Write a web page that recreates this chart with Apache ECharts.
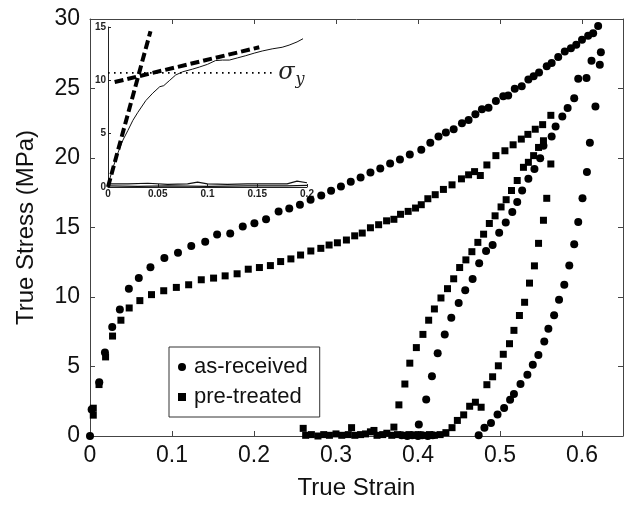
<!DOCTYPE html>
<html>
<head>
<meta charset="utf-8">
<script src="https://cdn.jsdelivr.net/npm/echarts@6/dist/echarts.min.js"></script>
<style>
  html, body { margin: 0; padding: 0; background: #fff; }
  #main { width: 627px; height: 505px; }
</style>
</head>
<body>
<div id="main"></div>
<script>
// main plot: [true strain, true stress (MPa)]
var asReceived = [
  [0, 0], [0.002, 1.9], [0.0113, 3.86], [0.0182, 6.0], [0.0271, 7.84], [0.0364, 9.1],
  [0.0474, 10.6], [0.0595, 11.36], [0.0737, 12.14], [0.0907, 12.8], [0.1073, 13.19],
  [0.1235, 13.67], [0.1405, 13.98], [0.155, 14.5], [0.171, 14.57], [0.1863, 15.07],
  [0.2005, 15.3], [0.2147, 15.6], [0.23, 16.16], [0.243, 16.36], [0.256, 16.64],
  [0.269, 17.0], [0.282, 17.3], [0.294, 17.65], [0.306, 17.95], [0.318, 18.3],
  [0.33, 18.6], [0.342, 18.95], [0.354, 19.25], [0.366, 19.6], [0.378, 19.9],
  [0.39, 20.25], [0.404, 20.6], [0.415, 21.1], [0.425, 21.55], [0.434, 21.83],
  [0.4435, 22.07], [0.4536, 22.5], [0.4617, 22.74], [0.47, 23.14], [0.478, 23.5],
  [0.486, 23.62], [0.495, 24.1], [0.504, 24.45], [0.51, 24.5], [0.518, 24.98],
  [0.5265, 25.17], [0.5346, 25.64], [0.541, 25.88], [0.5476, 26.16], [0.557, 26.6],
  [0.563, 26.83], [0.571, 27.26], [0.579, 27.66], [0.5865, 27.9], [0.593, 28.14],
  [0.6, 28.5], [0.6075, 28.8], [0.6136, 28.98], [0.6197, 29.5],
  // unloading branch
  [0.623, 27.6], [0.6116, 27.0], [0.6217, 26.7], [0.6055, 25.76], [0.5954, 25.7],
  [0.5905, 24.3], [0.5825, 23.6], [0.576, 22.98], [0.5678, 22.26], [0.563, 21.55],
  [0.553, 20.88], [0.549, 19.98], [0.542, 19.2], [0.5346, 18.5], [0.527, 17.66],
  [0.521, 16.83], [0.515, 16.12], [0.507, 15.36], [0.499, 14.62], [0.491, 13.74],
  [0.483, 13.31], [0.4746, 12.43], [0.4666, 11.29], [0.4576, 10.48], [0.4496, 9.57],
  [0.4406, 8.5], [0.4326, 7.31], [0.424, 5.95], [0.417, 4.29], [0.41, 2.62],
  [0.401, 0.83], [0.38, 0.05], [0.387, 0.0], [0.393, 0.05], [0.4, 0.0], [0.405, 0.05],
  [0.412, 0.0], [0.418, 0.05],
  // reloading branch
  [0.474, 0.05], [0.481, 0.6], [0.489, 0.93], [0.497, 1.55], [0.505, 2.02],
  [0.5123, 2.6], [0.517, 3.02], [0.525, 3.74], [0.5334, 4.4], [0.54, 5.12],
  [0.5468, 5.83], [0.554, 6.79], [0.559, 7.71], [0.566, 8.69], [0.572, 9.81],
  [0.5784, 10.88], [0.5845, 12.26], [0.5905, 13.79], [0.5954, 15.4], [0.6006, 17.1],
  [0.606, 19.0], [0.6096, 21.1], [0.6164, 23.7]
];

var preTreated = [
  [0.004, 1.5], [0.004, 2.0], [0.011, 3.7], [0.019, 5.69], [0.0275, 7.19], [0.0377, 8.33],
  [0.0478, 9.21], [0.0608, 9.74], [0.075, 10.17], [0.0899, 10.45], [0.1053, 10.69],
  [0.1203, 10.88], [0.1357, 11.24], [0.1507, 11.36], [0.1648, 11.52], [0.1794, 11.67],
  [0.193, 12.0], [0.2066, 12.12], [0.22, 12.26], [0.2325, 12.55], [0.245, 12.74],
  [0.2568, 13.02], [0.2693, 13.31], [0.2815, 13.5], [0.2916, 13.74], [0.3017, 13.9],
  [0.3127, 14.1], [0.3228, 14.4], [0.332, 14.6], [0.342, 14.98], [0.352, 15.2],
  [0.3617, 15.48], [0.3706, 15.59], [0.3787, 15.95], [0.388, 16.16], [0.397, 16.4],
  [0.404, 16.64], [0.412, 17.07], [0.421, 17.36], [0.431, 17.74], [0.4415, 18.07],
  [0.453, 18.5], [0.4617, 18.79], [0.469, 19.02], [0.476, 18.74], [0.484, 19.5],
  [0.495, 20.17], [0.506, 20.52], [0.516, 20.95], [0.526, 21.36], [0.534, 21.7],
  [0.543, 22.07], [0.552, 22.4], [0.562, 23.07],
  // unloading branch
  [0.553, 21.24], [0.547, 20.76], [0.541, 20.17], [0.5346, 19.69], [0.5286, 19.33],
  [0.521, 18.38], [0.514, 17.66], [0.5075, 17.0], [0.5013, 16.48], [0.494, 15.84],
  [0.487, 15.29], [0.48, 14.52], [0.473, 13.93], [0.4657, 13.26], [0.4584, 12.67],
  [0.4508, 12.12], [0.4435, 11.31], [0.436, 10.6], [0.428, 9.93], [0.42, 9.14],
  [0.413, 8.33], [0.406, 7.31], [0.398, 6.36], [0.39, 5.24], [0.384, 3.74],
  [0.3767, 2.24], [0.3706, 0.64],
  [0.26, 0.55], [0.263, 0.05], [0.27, 0.1], [0.278, 0.0], [0.285, 0.1], [0.292, 0.05],
  [0.3, 0.15], [0.307, 0.05], [0.315, 0.1], [0.319, 0.6], [0.323, 0.05], [0.33, 0.1],
  [0.336, 0.15], [0.342, 0.3], [0.3463, 0.4], [0.35, 0.05], [0.357, 0.1], [0.362, 0.2],
  [0.368, 0.05], [0.375, 0.1], [0.382, 0.05], [0.389, 0.1], [0.395, 0.05], [0.4, 0.1],
  [0.407, 0.05], [0.414, 0.1], [0.42, 0.05], [0.427, 0.1],
  // reloading branch
  [0.434, 0.24], [0.4415, 0.6], [0.448, 1.12], [0.4557, 1.52], [0.463, 2.14],
  [0.47, 2.43], [0.477, 2.07], [0.484, 3.69], [0.491, 4.26], [0.498, 5.05],
  [0.504, 5.88], [0.5116, 6.64], [0.517, 7.6], [0.5237, 8.67], [0.53, 9.62],
  [0.536, 11.0], [0.542, 12.24], [0.547, 13.86], [0.553, 15.52], [0.557, 17.1],
  [0.562, 19.57]
];

// inset: [strain, stress]
var insetCurve = [
  [0, 0.2], [0.005, 1.8], [0.01, 3.2], [0.015, 4.4], [0.02, 5.3], [0.025, 6.25],
  [0.03, 7.0], [0.038, 8.1], [0.045, 8.8], [0.052, 9.4], [0.056, 9.5], [0.062, 10.0],
  [0.068, 10.5], [0.075, 10.8], [0.085, 11.05], [0.092, 11.25], [0.1, 11.5],
  [0.108, 11.85], [0.115, 11.9], [0.122, 11.9], [0.13, 12.1], [0.138, 12.3],
  [0.147, 12.55], [0.155, 12.75], [0.165, 12.95], [0.175, 13.1], [0.182, 13.3],
  [0.19, 13.6], [0.196, 13.9]
];
var insetBaseA = [
  [0, 0.3], [0.02, 0.3], [0.04, 0.35], [0.06, 0.25], [0.08, 0.3], [0.09, 0.45],
  [0.1, 0.3], [0.12, 0.25], [0.14, 0.3], [0.16, 0.3], [0.18, 0.3], [0.19, 0.55], [0.2, 0.4]
];
var insetBaseB = [
  [0, 0.1], [0.03, 0.05], [0.06, 0.1], [0.1, 0.05], [0.14, 0.1], [0.18, 0.1], [0.2, 0.15]
];
var elasticFit = [[0, 0], [0.0427, 14.6]];
var hardeningFit = [[0.0067, 9.84], [0.152, 13.1]];
var yieldLine = [[0, 10.7], [0.167, 10.7]];

var mainXTicks = [0, 0.1, 0.2, 0.3, 0.4, 0.5, 0.6];

var font = 'Liberation Sans, Arial, Helvetica, sans-serif';
var axisColor = '#444';

var chart = echarts.init(document.getElementById('main'));

function frameAxis(pos, grid) {
  return {
    type: 'value', gridIndex: grid, position: pos,
    axisLine: { show: true, onZero: false, lineStyle: { color: axisColor, width: 1 } },
    axisTick: { show: true, inside: true, length: 5, lineStyle: { color: axisColor } },
    axisLabel: { show: false },
    splitLine: { show: false }
  };
}

var xTop = frameAxis('top', 0);
xTop.min = 0; xTop.max = 0.65; xTop.interval = 0.1;
xTop.axisTick.customValues = mainXTicks;
var yRight = frameAxis('right', 0);
yRight.min = 0; yRight.max = 30; yRight.interval = 5;

var option = {
  backgroundColor: '#fff',
  animation: false,
  grid: [
    { left: 90, right: 4, top: 19, bottom: 66 },
    { left: 108, top: 27, width: 199, height: 160 }
  ],
  legend: {
    orient: 'vertical',
    left: 169, top: 347,
    padding: [9, 12, 9, 9],
    itemGap: 8,
    itemWidth: 8, itemHeight: 8,
    borderColor: '#333', borderWidth: 1,
    backgroundColor: '#fff',
    textStyle: { fontFamily: font, fontSize: 22, color: '#111', padding: [0, 0, 0, 3] },
    data: [
      { name: 'as-received', icon: 'circle' },
      { name: 'pre-treated', icon: 'rect' }
    ]
  },
  xAxis: [
    {
      type: 'value', gridIndex: 0, position: 'bottom', min: 0, max: 0.65, interval: 0.1,
      name: 'True Strain', nameLocation: 'middle', nameGap: 40,
      nameTextStyle: { fontFamily: font, fontSize: 24, color: '#111' },
      axisLine: { show: true, onZero: false, lineStyle: { color: axisColor } },
      axisTick: { show: true, inside: true, length: 5, lineStyle: { color: axisColor }, customValues: mainXTicks },
      axisLabel: { fontFamily: font, fontSize: 23, color: '#111', margin: 8, customValues: mainXTicks },
      splitLine: { show: false }
    },
    xTop,
    {
      type: 'value', gridIndex: 1, min: 0, max: 0.2, interval: 0.05,
      axisLine: { show: true, onZero: false, lineStyle: { color: '#222' } },
      axisTick: { show: true, inside: true, length: 3, lineStyle: { color: '#222' } },
      axisLabel: { fontFamily: font, fontSize: 10, fontWeight: 'bold', color: '#222', margin: 2 },
      splitLine: { show: false }
    }
  ],
  yAxis: [
    {
      type: 'value', gridIndex: 0, position: 'left', min: 0, max: 30, interval: 5,
      name: 'True Stress (MPa)', nameLocation: 'middle', nameGap: 52,
      nameTextStyle: { fontFamily: font, fontSize: 24, color: '#111' },
      axisLine: { show: true, onZero: false, lineStyle: { color: axisColor } },
      axisTick: { show: true, inside: true, length: 5, lineStyle: { color: axisColor } },
      axisLabel: { fontFamily: font, fontSize: 23, color: '#111', margin: 10 },
      splitLine: { show: false }
    },
    yRight,
    {
      type: 'value', gridIndex: 1, min: 0, max: 15, interval: 5,
      axisLine: { show: true, onZero: false, lineStyle: { color: '#222' } },
      axisTick: { show: true, inside: true, length: 3, lineStyle: { color: '#222' } },
      axisLabel: { fontFamily: font, fontSize: 10, fontWeight: 'bold', color: '#222', margin: 2 },
      splitLine: { show: false }
    }
  ],
  series: [
    {
      name: 'as-received', type: 'scatter', xAxisIndex: 0, yAxisIndex: 0,
      symbol: 'circle', symbolSize: 8, itemStyle: { color: '#000', opacity: 1 }, data: asReceived
    },
    {
      name: 'pre-treated', type: 'scatter', xAxisIndex: 0, yAxisIndex: 0,
      symbol: 'rect', symbolSize: 7, itemStyle: { color: '#000', opacity: 1 }, data: preTreated
    },
    {
      name: 'curve', type: 'line', xAxisIndex: 2, yAxisIndex: 2, showSymbol: false,
      lineStyle: { color: '#111', width: 1 }, data: insetCurve
    },
    {
      name: 'baseA', type: 'line', xAxisIndex: 2, yAxisIndex: 2, showSymbol: false,
      lineStyle: { color: '#111', width: 1.2 }, data: insetBaseA
    },
    {
      name: 'baseB', type: 'line', xAxisIndex: 2, yAxisIndex: 2, showSymbol: false,
      lineStyle: { color: '#111', width: 1.2 }, data: insetBaseB
    },
    {
      name: 'elastic', type: 'line', xAxisIndex: 2, yAxisIndex: 2, showSymbol: false,
      lineStyle: { color: '#000', width: 4, type: [9, 4] }, data: elasticFit
    },
    {
      name: 'hardening', type: 'line', xAxisIndex: 2, yAxisIndex: 2, showSymbol: false,
      lineStyle: { color: '#000', width: 4, type: [9, 4] }, data: hardeningFit
    },
    {
      name: 'yield', type: 'line', xAxisIndex: 2, yAxisIndex: 2, showSymbol: false,
      lineStyle: { color: '#000', width: 1.6, type: [1.6, 4.4] }, data: yieldLine,
      endLabel: {
        show: true, distance: 4,
        formatter: '{s|σ}{y|y}',
        rich: {
          s: { fontFamily: 'DejaVu Serif', fontStyle: 'italic', fontSize: 24, color: '#222' },
          y: { fontFamily: 'DejaVu Serif', fontStyle: 'italic', fontSize: 16, color: '#222', padding: [14, 0, 0, 1] }
        }
      }
    }
  ]
};

chart.setOption(option);
</script>
</body>
</html>
